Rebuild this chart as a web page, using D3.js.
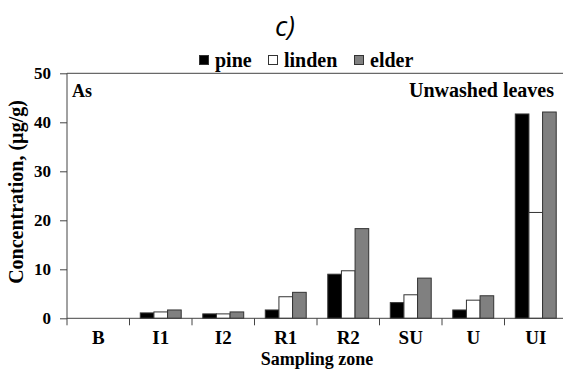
<html>
<head>
<meta charset="utf-8">
<script src="https://cdn.jsdelivr.net/npm/d3@7"></script>
<style>
  body { margin: 0; background: #fff; }
  svg text { font-family: "Liberation Serif", "DejaVu Serif", serif; font-weight: bold; fill: #000; }
  .axis path, .axis line { stroke: #444; }
</style>
</head>
<body>
<svg width="563" height="369"></svg>
<script>
// zones and As concentration (µg/g), unwashed leaves
const zones = ["B", "I1", "I2", "R1", "R2", "SU", "U", "UI"];
const species = ["pine", "linden", "elder"];
const pine   = [0, 1.1, 0.9, 1.7, 9.0, 3.2, 1.7, 41.7];
const linden = [0, 1.3, 0.9, 4.4, 9.7, 4.8, 3.7, 21.6];
const elder  = [0, 1.7, 1.3, 5.3, 18.3, 8.2, 4.6, 42.1];
const yTicks = [0, 10, 20, 30, 40, 50];

const colors = { pine: "#000", linden: "#fff", elder: "#808080" };
const values = { pine: pine, linden: linden, elder: elder };
const serif = "'Liberation Serif', 'DejaVu Serif', serif";

const svg = d3.select("svg");

const plotLeft = 67, plotRight = 567, plotTop = 73.3, plotBottom = 318.3;

var x = d3.scaleBand().domain(zones).range([plotLeft, plotRight]);
var xs = d3.scaleBand().domain(species).range([0, x.bandwidth()]).paddingOuter(0.79);
var y = d3.scaleLinear().domain([0, 50]).range([plotBottom, plotTop]);

// title
svg.append("text")
  .attr("x", 285).attr("y", 36)
  .attr("text-anchor", "middle")
  .style("font-family", "'Open Sans', sans-serif")
  .style("font-weight", "normal")
  .style("font-style", "italic")
  .style("font-size", "27px")
  .text("c)");

// legend
const legX = { pine: 199, linden: 268, elder: 354 };
const leg = svg.append("g").selectAll("g")
  .data(species)
  .enter().append("g")
    .attr("transform", d => "translate(" + legX[d] + ",0)");
leg.append("rect")
  .attr("x", 0.5).attr("y", 55.5)
  .attr("width", 9).attr("height", 9)
  .attr("fill", d => colors[d])
  .attr("stroke", "#333");
leg.append("text")
  .attr("x", 16).attr("y", 67)
  .style("font-family", serif)
  .style("font-size", "20px")
  .text(d => d);

// top frame line
svg.append("line")
  .attr("x1", plotLeft).attr("x2", plotRight)
  .attr("y1", y(50)).attr("y2", y(50))
  .attr("stroke", "#444");

// bars
const groups = svg.append("g").selectAll("g")
  .data(zones)
  .enter().append("g")
    .attr("transform", d => "translate(" + x(d) + ",0)");
groups.selectAll("rect")
  .data((z, i) => species.map(s => ({ s: s, v: values[s][i] })))
  .enter().append("rect")
    .filter(d => d.v > 0)
    .attr("x", d => xs(d.s))
    .attr("y", d => y(d.v))
    .attr("width", xs.bandwidth())
    .attr("height", d => y(0) - y(d.v))
    .attr("fill", d => colors[d.s])
    .attr("stroke", "#333")
    .attr("stroke-width", 1);

// y axis
var yAxis = d3.axisLeft(y)
  .tickValues(yTicks)
  .tickSize(7)
  .tickPadding(9);
svg.append("g")
  .attr("class", "axis")
  .attr("transform", "translate(" + plotLeft + ",0)")
  .call(yAxis)
  .attr("font-family", null)
  .call(g => g.selectAll("text").style("font-family", serif).style("font-size", "17px").attr("fill", "#000"))
  .call(g => g.select(".domain").attr("d", "M0," + plotTop + "V" + plotBottom));

// x axis: labels centred, ticks at category boundaries
var xAxis = d3.axisBottom(x).tickSize(0).tickPadding(12);
svg.append("g")
  .attr("class", "axis")
  .attr("transform", "translate(0," + plotBottom + ")")
  .call(xAxis)
  .attr("font-family", null)
  .call(g => g.selectAll("text").style("font-family", serif).style("font-size", "19px").attr("fill", "#000"))
  .call(g => g.select(".domain").attr("d", "M" + plotLeft + ",0H" + plotRight));

const bounds = zones.map(z => x(z)).concat([plotRight]);
svg.append("g").selectAll("line")
  .data(bounds)
  .enter().append("line")
    .attr("x1", d => d).attr("x2", d => d)
    .attr("y1", plotBottom).attr("y2", plotBottom + 7)
    .attr("stroke", "#444");

// annotations
svg.append("text")
  .attr("x", 72).attr("y", 97)
  .style("font-family", serif)
  .style("font-size", "18px")
  .text("As");
svg.append("text")
  .attr("x", 554).attr("y", 97)
  .attr("text-anchor", "end")
  .style("font-family", serif)
  .style("font-size", "20px")
  .text("Unwashed leaves");

// axis titles
svg.append("text")
  .attr("x", 317).attr("y", 364.5)
  .attr("text-anchor", "middle")
  .style("font-family", serif)
  .style("font-size", "18px")
  .text("Sampling zone");
svg.append("text")
  .attr("transform", "translate(23,192) rotate(-90)")
  .attr("text-anchor", "middle")
  .style("font-family", serif)
  .style("font-size", "20px")
  .text("Concentration, (µg/g)");
</script>
</body>
</html>
